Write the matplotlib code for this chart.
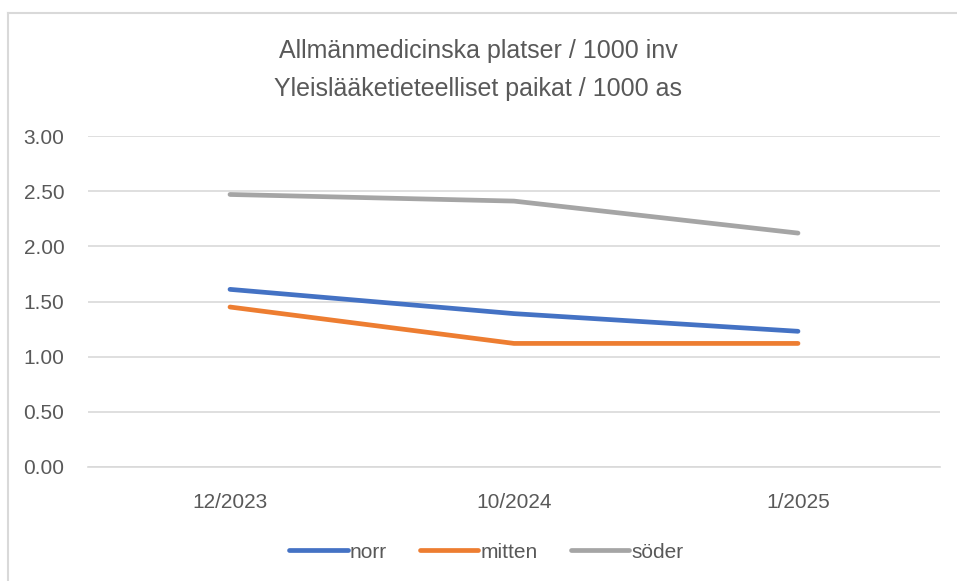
import matplotlib
matplotlib.use('Agg')
import matplotlib.pyplot as plt
from matplotlib.lines import Line2D

categories = ['12/2023', '10/2024', '1/2025']
norr = [1.61, 1.39, 1.23]
mitten = [1.45, 1.12, 1.12]
soder = [2.47, 2.41, 2.12]
series_names = ['norr', 'mitten', 'söder']
y_ticks = [0.0, 0.5, 1.0, 1.5, 2.0, 2.5, 3.0]

plt.rcParams['font.family'] = ['Liberation Sans', 'DejaVu Sans']
text_color = '#595959'
grid_color = '#D9D9D9'

fig = plt.figure(figsize=(9.57, 5.81), dpi=100)
# chart frame (only left and top edges fall inside the image)
fig.lines.append(Line2D([8 / 957, 8 / 957], [0, 1 - 13 / 581], transform=fig.transFigure,
                        color=grid_color, linewidth=1.5))
fig.lines.append(Line2D([8 / 957, 1], [1 - 13 / 581, 1 - 13 / 581], transform=fig.transFigure,
                        color=grid_color, linewidth=1.5))

ax = fig.add_axes([88 / 957, 1 - 467 / 581, (940 - 88) / 957, (467 - 136) / 581])
x = range(len(categories))
colors = ['#4472C4', '#ED7D31', '#A5A5A5']
for vals, name, c in zip([norr, mitten, soder], series_names, colors):
    ax.plot(x, vals, color=c, linewidth=3.4, solid_capstyle='round',
            solid_joinstyle='round', label=name, zorder=3)

ax.set_xlim(-0.5, 2.5)
ax.set_ylim(0, 3.0)
ax.set_yticks(y_ticks)
ax.set_yticklabels([f'{v:.2f}' for v in y_ticks])
ax.set_xticks(list(x))
ax.set_xticklabels(categories)
ax.grid(axis='y', color=grid_color, linewidth=1.2)
ax.set_axisbelow(True)
for s in ['top', 'right', 'left']:
    ax.spines[s].set_visible(False)
ax.spines['bottom'].set_color(grid_color)
ax.spines['bottom'].set_linewidth(1.2)
ax.tick_params(length=0, labelsize=15, colors=text_color)
ax.tick_params(axis='y', pad=17)
ax.tick_params(axis='x', pad=19)

fig.text(0.5, 1 - 51 / 581, 'Allmänmedicinska platser / 1000 inv', ha='center', va='center',
         fontsize=18, color=text_color)
fig.text(0.5, 1 - 89 / 581, 'Yleislääketieteelliset paikat / 1000 as', ha='center', va='center',
         fontsize=18, color=text_color)

fig.legend(loc='center', bbox_to_anchor=(0.5 + 8 / 957, 1 - 552 / 581), ncol=3, frameon=False,
           fontsize=15, labelcolor=text_color, handlelength=2.8, handletextpad=0.1,
           columnspacing=1.6)

fig.savefig('out.png', dpi=100)
